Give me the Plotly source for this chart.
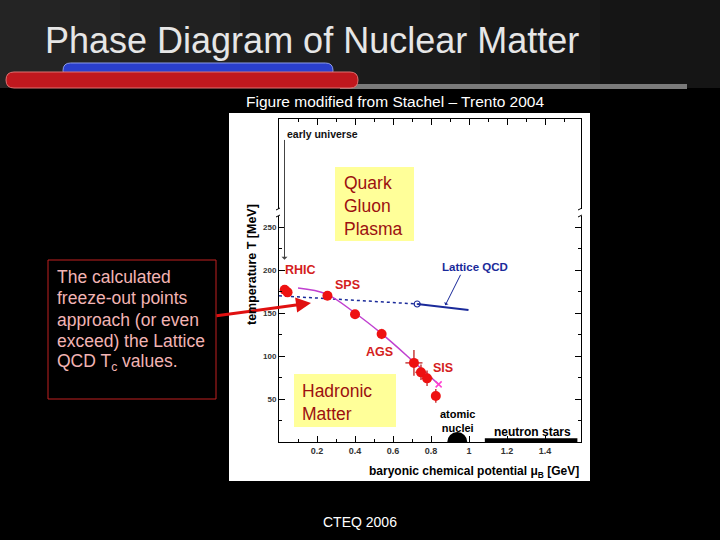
import plotly.graph_objects as go

# ---------------- data ----------------
fo_mu = [0.03, 0.045, 0.255, 0.40, 0.54, 0.71, 0.747, 0.779, 0.825]
fo_T = [177, 174, 170, 148.5, 125.6, 92, 81, 74, 53.5]
fo_errT = [3, 3, 4, 5, 6, 15, 9, 9, 8]
fo_errmu = [0.0, 0.0, 0.01, 0.01, 0.01, 0.045, 0.03, 0.03, 0.0]

curve_mu = [0.10, 0.25, 0.40, 0.54, 0.71, 0.84]
curve_T = [179, 172, 150, 126, 93, 67]

lqcd_dot_mu = [0.0, 0.727]
lqcd_dot_T = [170, 160.5]
lqcd_solid_mu = [0.727, 0.997]
lqcd_solid_T = [160.5, 153.5]

nuclei_mu = [0.938]
nuclei_T = [0]
nstar_mu = [1.083, 1.57]
nstar_T = [2, 2]

x_ticks = [0.2, 0.4, 0.6, 0.8, 1.0, 1.2, 1.4]
x_ticktext = ["0.2", "0.4", "0.6", "0.8", "1", "1.2", "1.4"]
x_minor = [0.1, 0.3, 0.5, 0.7, 0.9, 1.1, 1.3, 1.5]
y_ticks = [50, 100, 150, 200, 250]
y_minor = [25, 75, 125, 175, 225]

box_lines = ["The calculated", "freeze-out points", "approach (or even",
             "exceed) the Lattice", "QCD T<sub>c</sub> values."]

# ---------------- layout helpers (pixel -> paper) ----------------
L, R, T, B = 279, 581, 119, 442
W, H = R - L, B - T


def xp(px):
    return (px - L) / W


def yp(py):
    return (B - py) / H


FONT = "Liberation Sans, Arial, sans-serif"

fig = go.Figure()

# Lattice QCD line (dotted part + solid part)
fig.add_trace(go.Scatter(x=lqcd_dot_mu, y=lqcd_dot_T, mode="lines",
                         line=dict(color="#1a2a9a", width=1.5, dash="dot"),
                         hoverinfo="skip", showlegend=False))
fig.add_trace(go.Scatter(x=lqcd_solid_mu, y=lqcd_solid_T, mode="lines",
                         line=dict(color="#1a2a9a", width=2),
                         hoverinfo="skip", showlegend=False))
fig.add_trace(go.Scatter(x=[lqcd_solid_mu[0]], y=[lqcd_solid_T[0]], mode="markers",
                         marker=dict(symbol="circle-open", size=6, color="#1a2a9a",
                                     line=dict(width=1.2)),
                         hoverinfo="skip", showlegend=False))

# freeze-out curve
fig.add_trace(go.Scatter(x=curve_mu, y=curve_T, mode="lines",
                         line=dict(color="#c040d0", width=1.5, shape="spline"),
                         hoverinfo="skip", showlegend=False))
fig.add_trace(go.Scatter(x=[curve_mu[-1]], y=[curve_T[-1]], mode="markers",
                         marker=dict(symbol="x-thin", size=6, color="#ff40d0",
                                     line=dict(width=1.5, color="#ff40d0")),
                         hoverinfo="skip", showlegend=False))

# freeze-out points
fig.add_trace(go.Scatter(x=fo_mu, y=fo_T, mode="markers",
                         marker=dict(size=10, color="#ee1111"),
                         error_y=dict(type="data", array=fo_errT, color="#c83c3c",
                                      thickness=1.5, width=0),
                         error_x=dict(type="data", array=fo_errmu, color="#c83c3c",
                                      thickness=1.5, width=0),
                         hoverinfo="skip", showlegend=False))

# atomic nuclei (half disc clipped by axis) and neutron stars bar
fig.add_trace(go.Scatter(x=nuclei_mu, y=nuclei_T, mode="markers",
                         marker=dict(size=20, color="black"), cliponaxis=True,
                         hoverinfo="skip", showlegend=False))
fig.add_trace(go.Scatter(x=nstar_mu, y=nstar_T, mode="lines",
                         line=dict(color="black", width=4),
                         hoverinfo="skip", showlegend=False))

shapes = []
# header background (subtle gradient)
hdr_cols = ["#242424", "#212121", "#1e1e1e", "#1b1b1b", "#181818", "#151515"]
for i, c in enumerate(hdr_cols):
    shapes.append(dict(type="rect", xref="paper", yref="paper", layer="below",
                       x0=xp(i * 120), x1=xp((i + 1) * 120 + 1), y0=yp(0), y1=yp(88),
                       fillcolor=c, line=dict(width=0)))
# gray bar
shapes.append(dict(type="rect", xref="paper", yref="paper", layer="below",
                   x0=xp(340), x1=xp(687), y0=yp(84), y1=yp(89),
                   fillcolor="#7a7a7a", line=dict(width=0)))


def pill(x0, x1, y0, y1, fill, edge):
    r = (y1 - y0) / 2
    path = (f"M {xp(x0 + r)},{yp(y0)} L {xp(x1 - r)},{yp(y0)} "
            f"Q {xp(x1)},{yp(y0)} {xp(x1)},{yp(y0 + r)} "
            f"Q {xp(x1)},{yp(y1)} {xp(x1 - r)},{yp(y1)} "
            f"L {xp(x0 + r)},{yp(y1)} "
            f"Q {xp(x0)},{yp(y1)} {xp(x0)},{yp(y0 + r)} "
            f"Q {xp(x0)},{yp(y0)} {xp(x0 + r)},{yp(y0)} Z")
    return dict(type="path", xref="paper", yref="paper", layer="below", path=path,
                fillcolor=fill, line=dict(color=edge, width=1))


shapes.append(pill(63, 333, 63, 78, "#2a3fcc", "#8a9ae8"))
shapes.append(pill(6, 358, 72, 88, "#c0181e", "#e07070"))

# white figure image
shapes.append(dict(type="rect", xref="paper", yref="paper", layer="below",
                   x0=xp(229), x1=xp(590), y0=yp(113), y1=yp(481),
                   fillcolor="white", line=dict(width=0)))

# yellow boxes
shapes.append(dict(type="rect", xref="paper", yref="paper", layer="below",
                   x0=xp(335), x1=xp(414), y0=yp(167), y1=yp(241),
                   fillcolor="#ffff99", line=dict(width=0)))
shapes.append(dict(type="rect", xref="paper", yref="paper", layer="below",
                   x0=xp(294), x1=xp(396), y0=yp(374), y1=yp(427),
                   fillcolor="#ffff99", line=dict(width=0)))

# axis break marks
for xc in (L, R):
    shapes.append(dict(type="rect", xref="paper", yref="paper", layer="above",
                       x0=xp(xc - 2), x1=xp(xc + 2), y0=yp(209), y1=yp(216),
                       fillcolor="white", line=dict(width=0)))
    shapes.append(dict(type="line", xref="paper", yref="paper", layer="above",
                       x0=xp(xc - 3), x1=xp(xc + 1), y0=yp(210), y1=yp(208),
                       line=dict(color="black", width=1)))
    shapes.append(dict(type="line", xref="paper", yref="paper", layer="above",
                       x0=xp(xc - 3), x1=xp(xc + 1), y0=yp(217), y1=yp(215),
                       line=dict(color="black", width=1)))

# left text box
shapes.append(dict(type="rect", xref="paper", yref="paper",
                   x0=xp(48), x1=xp(216), y0=yp(260), y1=yp(399),
                   fillcolor="black", line=dict(color="#c02020", width=1)))

ann = []
ann.append(dict(text="Phase Diagram of Nuclear Matter", xref="paper", yref="paper",
                x=xp(43), y=yp(40), xanchor="left", yanchor="middle", showarrow=False,
                font=dict(family=FONT, size=36, color="#e6e6e6")))
ann.append(dict(text="Figure modified from Stachel \u2013 Trento 2004", xref="paper", yref="paper",
                x=xp(395), y=yp(101), xanchor="center", yanchor="middle", showarrow=False,
                font=dict(family=FONT, size=15.5, color="white")))
ann.append(dict(text="CTEQ 2006", xref="paper", yref="paper",
                x=xp(360), y=yp(522), xanchor="center", yanchor="middle", showarrow=False,
                font=dict(family=FONT, size=14, color="white")))
for i, line in enumerate(box_lines):
    ann.append(dict(text=line, xref="paper", yref="paper", x=xp(55), y=yp(277 + 21.4 * i),
                    xanchor="left", yanchor="middle", align="left", showarrow=False,
                    font=dict(family=FONT, size=17.5, color="#f2b4b4")))
ann.append(dict(text="Quark<br>Gluon<br>Plasma", xref="paper", yref="paper",
                x=xp(342), y=yp(171), xanchor="left", yanchor="top", align="left",
                showarrow=False, font=dict(family=FONT, size=17.5, color="#9c1010")))
ann.append(dict(text="Hadronic<br>Matter", xref="paper", yref="paper",
                x=xp(300), y=yp(379), xanchor="left", yanchor="top", align="left",
                showarrow=False, font=dict(family=FONT, size=17.5, color="#9c1010")))

red_lbl = dict(family=FONT, size=12.5, color="#d42020", weight="bold")
for txt, xx, yy in [("RHIC", 0.113, 200.5), ("SPS", 0.362, 182.5),
                    ("AGS", 0.527, 104.6), ("SIS", 0.864, 85.5)]:
    ann.append(dict(text=txt, x=xx, y=yy, xref="x", yref="y", showarrow=False,
                    font=red_lbl))
blk_lbl = dict(family=FONT, size=11, color="black", weight="bold")
ann.append(dict(text="atomic<br>nuclei", x=0.94, y=25, xref="x", yref="y",
                showarrow=False, font=blk_lbl))
ann.append(dict(text="neutron stars", x=1.332, y=12, xref="x", yref="y",
                showarrow=False, font=dict(family=FONT, size=12, color="black", weight="bold")))
ann.append(dict(text="early universe", x=0.03, y=358, xref="x", yref="y",
                xanchor="left", showarrow=False,
                font=dict(family=FONT, size=10.5, color="#111", weight="bold")))
ann.append(dict(text="Lattice QCD", x=1.03, y=204, xref="x", yref="y", showarrow=False,
                font=dict(family=FONT, size=11.5, color="#1a2a9a", weight="bold")))
# arrows
ann.append(dict(text="", x=0.029, y=212, ax=0.029, ay=353, xref="x", yref="y",
                axref="x", ayref="y", showarrow=True, arrowhead=1, arrowsize=1,
                arrowwidth=1, arrowcolor="#444"))
ann.append(dict(text="", x=0.875, y=159, ax=16, ay=-32, xref="x", yref="y",
                showarrow=True, arrowhead=1, arrowsize=0.8, arrowwidth=1,
                arrowcolor="#1a2a9a"))
ann.append(dict(text="", x=xp(311), y=yp(303), ax=-96, ay=13, xref="paper", yref="paper",
                showarrow=True, arrowhead=2, arrowsize=1, arrowwidth=3,
                arrowcolor="#e01010"))
# axis titles
ann.append(dict(text="temperature T [MeV]", xref="paper", yref="paper",
                x=xp(243), y=yp(265), textangle=-90, showarrow=False,
                font=dict(family=FONT, size=12.5, color="black", weight="bold")))
ann.append(dict(text="baryonic chemical potential \u03bc<sub>B</sub> [GeV]", xref="paper",
                yref="paper", x=xp(581), y=yp(462), xanchor="right", yanchor="top",
                showarrow=False,
                font=dict(family=FONT, size=12, color="black", weight="bold")))

xtickfont = dict(family=FONT, size=9, color="#333", weight="bold")
ytickfont = dict(family=FONT, size=8, color="#333", weight="bold")
fig.update_layout(
    width=720, height=540,
    margin=dict(l=L, r=720 - R, t=T, b=540 - B, autoexpand=False),
    paper_bgcolor="black", plot_bgcolor="white",
    shapes=shapes, annotations=ann, showlegend=False,
    xaxis=dict(range=[0, 1.589], tickmode="array", tickvals=x_ticks, ticktext=x_ticktext,
               ticks="inside", ticklen=6, tickcolor="black", showgrid=False, zeroline=False,
               showline=True, linecolor="black", linewidth=1, mirror="allticks",
               tickfont=xtickfont,
               minor=dict(tickmode="array", tickvals=x_minor, ticks="inside", ticklen=3,
                          tickcolor="black")),
    yaxis=dict(range=[0, 375.6], tickmode="array", tickvals=y_ticks,
               ticks="inside", ticklen=6, tickcolor="black", showgrid=False, zeroline=False,
               showline=True, linecolor="black", linewidth=1, mirror="allticks",
               tickfont=ytickfont,
               minor=dict(tickmode="array", tickvals=y_minor, ticks="inside", ticklen=3,
                          tickcolor="black")),
)

fig.write_html("out.html", config={"displayModeBar": False},
               post_script="document.body.style.margin='0';document.body.style.overflow='hidden';")
